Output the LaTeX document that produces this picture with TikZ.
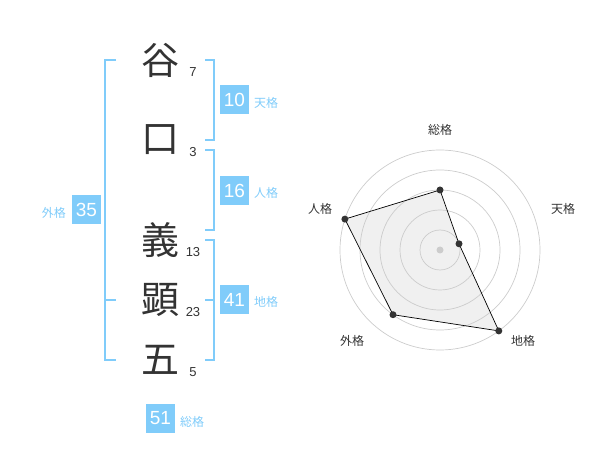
\documentclass[tikz,border=0pt]{standalone}
\usepackage{fontspec}
\setmainfont{Liberation Sans}
\newfontfamily\cjk{Noto Sans CJK JP}
\definecolor{kblue}{RGB}{128,204,250}
\definecolor{ink}{RGB}{51,51,51}
\definecolor{ringc}{RGB}{204,204,204}
\definecolor{polyfill}{RGB}{240,240,240}
\begin{document}
\begin{tikzpicture}[x=1pt,y=-1pt,
  kanji/.style={font=\cjk\fontsize{38}{38}\selectfont, text=ink, inner sep=0pt},
  strokes/.style={font=\fontsize{13}{13}\selectfont, text=ink, inner sep=0pt},
  numbox/.style={fill=kblue, text=white, minimum width=29pt, minimum height=29pt, inner sep=0pt, font=\fontsize{19}{19}\selectfont},
  kaku/.style={font=\cjk\fontsize{12}{12}\selectfont, text=kblue, inner sep=0pt},
  bracket/.style={draw=kblue, line width=1.8pt},
  ring/.style={draw=ringc, line width=0.7pt},
  rlabel/.style={font=\cjk\fontsize{12}{12}\selectfont, text=ink, inner sep=0pt},
  rdot/.style={circle, fill=ink, inner sep=0pt, minimum size=7pt},
]
\useasboundingbox (0,0) rectangle (600,470);
% name characters
\node[kanji] (c1) at (160,60) {谷};
\node[kanji] (c2) at (160,140) {口};
\node[kanji] (c3) at (160,240) {義};
\node[kanji] (c4) at (160,300) {顕};
\node[kanji] (c5) at (160,360) {五};
% stroke counts
\node[strokes] (s1) at (193,72) {7};
\node[strokes] (s2) at (193,152) {3};
\node[strokes] (s3) at (193,252) {13};
\node[strokes] (s4) at (193,312) {23};
\node[strokes] (s5) at (193,372) {5};
% brackets
\draw[bracket] (116,60) -- (105,60) -- (105,360) -- (116,360);
\draw[bracket] (105,300) -- (116,300);
\draw[bracket] (205,60) -- (214,60) -- (214,140) -- (205,140);
\draw[bracket] (205,150) -- (214,150) -- (214,230) -- (205,230);
\draw[bracket] (205,240) -- (214,240) -- (214,360) -- (205,360);
\draw[bracket] (205,300) -- (214,300);
% boxes
\node[numbox] (ten) at (234.5,100) {10};
\node[numbox] (jin) at (234.5,190.5) {16};
\node[numbox] (gai) at (86.5,210) {35};
\node[numbox] (chi) at (234.5,300) {41};
\node[numbox] (sou) at (160.5,418.5) {51};
\node[kaku, anchor=west] (tenl) at (254,103) {天格};
\node[kaku, anchor=west] (jinl) at (254,193) {人格};
\node[kaku, anchor=west] (chil) at (254,302) {地格};
\node[kaku, anchor=east] (gail) at (66,213) {外格};
\node[kaku, anchor=west] (soul) at (180,422) {総格};
% radar chart
\coordinate (O) at (440,250);
\coordinate (p1) at (440,190);
\coordinate (p2) at (459.0,243.8);
\coordinate (p3) at (498.8,330.9);
\coordinate (p4) at (393.0,314.7);
\coordinate (p5) at (344.9,219.1);
\fill[polyfill] (p1) -- (p2) -- (p3) -- (p4) -- (p5) -- cycle;
\foreach \r in {20,40,60,80,100} \draw[ring] (O) circle[radius=\r];
\draw[black, line width=0.7pt, line join=round] (p1) -- (p2) -- (p3) -- (p4) -- (p5) -- cycle;
\foreach \p in {p1,p2,p3,p4,p5} \node[rdot] at (\p) {};
\node[circle, fill=ringc, inner sep=0pt, minimum size=7pt] (Oc) at (O) {};
\node[rlabel] (l1) at (440,130) {総格};
\node[rlabel] (l2) at (563,209) {天格};
\node[rlabel] (l3) at (523,341) {地格};
\node[rlabel] (l4) at (352,341) {外格};
\node[rlabel] (l5) at (320,209) {人格};
\end{tikzpicture}
\end{document}
